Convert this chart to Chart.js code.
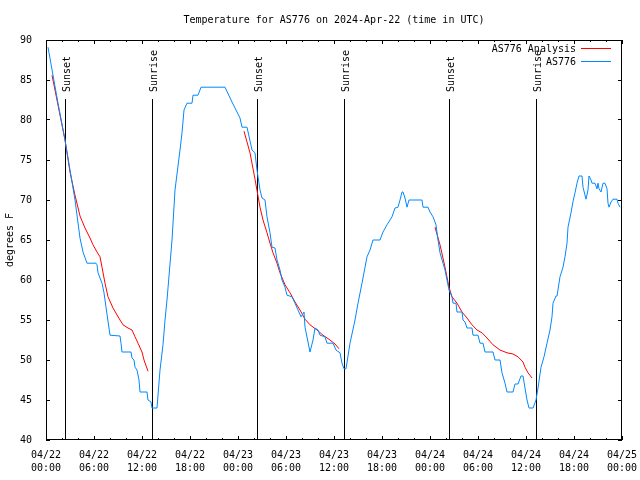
<!DOCTYPE html>
<html>
<head>
<meta charset="utf-8">
<script src="https://cdn.jsdelivr.net/npm/chart.js@4.4.1/dist/chart.umd.min.js"></script>
<style>
  html, body { margin: 0; padding: 0; background: #fff; }
</style>
</head>
<body>
<canvas id="tempChart" width="640" height="480"></canvas>
<script>
// hours since 2024-04-22 00:00 UTC
const obsHours = [0.25, 1.5, 2.375, 3.0, 3.625, 4.25, 4.625, 5.125, 6.25, 6.375, 6.5, 7.0, 7.25, 7.5, 8.0, 9.25, 9.375, 9.5,
  10.625, 10.75, 11.0, 11.125, 11.375, 11.625, 11.75, 12.625, 12.75, 13.125, 13.25, 13.875, 14.25, 14.625, 14.875, 15.125,
  15.75, 16.125, 16.75, 17.0, 17.25, 17.625, 18.25, 18.375, 19.0, 19.375, 22.375, 23.25, 24.25, 24.5, 25.125, 25.75, 26.125,
  26.375, 26.75, 27.0, 27.375, 27.625, 28.0, 28.25, 28.625, 28.875, 29.25, 29.5, 29.875, 30.125, 30.75, 31.125, 31.5, 31.875,
  32.25, 32.375, 33.0, 33.375, 33.625, 34.0, 34.25, 34.875, 35.125, 35.875, 36.25, 36.75, 37.0, 37.25, 37.5, 38.0, 38.625,
  39.0, 39.5, 39.875, 40.125, 40.5, 40.875, 41.75, 42.125, 42.625, 43.25, 43.625, 44.0, 44.25, 44.5, 44.625, 44.875, 45.125,
  45.375, 47.0, 47.125, 47.75, 48.0, 48.375, 48.75, 49.0, 49.25, 49.625, 49.875, 50.125, 50.375, 50.75, 50.875, 51.25,
  51.375, 52.0, 52.125, 52.375, 52.625, 53.25, 53.375, 54.0, 54.25, 54.625, 54.875, 55.875, 56.125, 56.75, 57.0, 57.375,
  57.625, 58.375, 58.625, 59.0, 59.375, 59.625, 59.875, 60.125, 60.375, 60.875, 61.25, 61.5, 61.875, 62.25, 62.625, 63.0,
  63.25, 63.375, 63.75, 63.875, 64.25, 64.625, 64.875, 65.125, 65.25, 65.625, 65.875, 66.125, 66.375, 66.625, 67.0, 67.125,
  67.5, 67.75, 67.875, 68.125, 68.25, 68.625, 68.875, 69.0, 69.125, 69.375, 69.625, 69.875, 70.125, 70.25, 70.375, 70.625,
  70.875, 71.375, 71.5, 71.75];
const obsTemps = [89.1, 82.1, 77.5, 73.75, 70, 65.25, 63.5, 62.1, 62.1, 61.9, 60.9, 59.6, 58.4, 56.6, 53.1, 53, 52.1, 51,
  51, 50.25, 50, 49.1, 48.75, 47.5, 46, 46, 45, 44.75, 44, 44, 48.75, 51.9, 55, 57.5,
  65, 71.25, 76.25, 78.4, 81.25, 82.1, 82.1, 83.1, 83.1, 84.1, 84.1, 82.25, 80.25, 79.1, 79.1, 76.25, 75.9,
  73.75, 71.25, 70.25, 70, 67.9, 65.9, 64.1, 64, 62.5, 61.25, 60, 59.1, 58.1, 57.9, 57.1, 56.25, 55.4,
  56, 54.1, 51, 52.5, 54, 53.75, 53.1, 52.9, 52.1, 52.1, 51.25, 50.9, 49.6, 48.9, 48.9, 52.1, 55,
  57.1, 59.6, 61.6, 62.9, 63.75, 65, 65, 66, 66.9, 67.9, 69, 69.1, 70, 71, 71, 70.25, 69.1,
  70, 70, 69.1, 69.1, 68.5, 67.9, 66.9, 65, 63.4, 62.1, 61.25, 60, 58.75, 57.9, 57.1, 57.1,
  56, 56, 55, 54.75, 54, 54, 53.1, 53.1, 52.1, 52.1, 51, 51, 50, 50, 48.4, 47.1,
  46, 46, 47, 47, 48, 48, 46.5, 45, 44, 44, 45, 46.5, 49.1, 50.4, 52.1, 53.75,
  55.4, 57.1, 58, 58, 60.4, 61.6, 62.9, 64.6, 66.6, 68.4, 69.8, 70.9, 72.1, 73, 73, 71.6,
  70.1, 71.25, 73, 72.5, 72.1, 72.1, 71.4, 72.1, 71.4, 71, 72.1, 72.1, 71.4, 69.6, 69.1, 69.75,
  70.1, 70.1, 69.6, 69.1];

// analysis runs, null marks the gaps between evenings
const anaHours = [0.75, 2.375, 3.0, 3.625, 4.25, 4.875, 5.5, 5.875, 6.375, 6.75, 7.0, 7.375, 7.75, 8.375, 9.25, 9.625,
  10.25, 10.75, 11.125, 11.5, 12.0, 12.25, 12.75, 13.0,
  24.75, 25.5, 26.125, 26.75, 27.125, 27.625, 28.0, 28.375, 28.875, 29.25, 29.875, 30.5, 31.125, 31.75, 32.375, 33.0,
  33.875, 34.625, 35.5, 36.125, 36.625, 37.0,
  48.625, 49.25, 49.875, 50.375, 50.75, 51.375, 52.0, 52.625, 53.25, 53.875, 54.5, 55.125, 55.875, 56.75, 57.625, 58.375,
  59.0, 59.625, 59.875, 60.25, 60.75];
const anaTemps = [85.6, 77.5, 73.5, 70.6, 68, 66.5, 65.25, 64.4, 63.5, 62.9, 61.6, 59.6, 57.9, 56.5, 55, 54.4,
  54, 53.75, 52.9, 52.1, 51, 50, 48.6, null,
  78.6, 75.9, 72.6, 69.1, 67.5, 65.9, 64.6, 63.4, 62.1, 60.9, 59.4, 58.4, 57.25, 56.25, 55.1, 54.4,
  53.75, 53.1, 52.5, 52, 51.4, null,
  66.6, 64.4, 61.6, 59.1, 57.9, 57.1, 56, 55.25, 54.4, 53.75, 53.4, 52.75, 51.9, 51.25, 50.9, 50.75,
  50.4, 49.75, 49.1, 48.4, 47.75];

const sunHours = [2.44, 13.29, 26.375, 37.25, 50.375, 61.25];
const sunLabels = ['Sunset', 'Sunrise', 'Sunset', 'Sunrise', 'Sunset', 'Sunrise'];

const xTickLabels = [['04/22', '00:00'], ['04/22', '06:00'], ['04/22', '12:00'], ['04/22', '18:00'],
  ['04/23', '00:00'], ['04/23', '06:00'], ['04/23', '12:00'], ['04/23', '18:00'],
  ['04/24', '00:00'], ['04/24', '06:00'], ['04/24', '12:00'], ['04/24', '18:00'], ['04/25', '00:00']];
const yTicks = [40, 45, 50, 55, 60, 65, 70, 75, 80, 85, 90];

const seriesNames = ['AS776 Analysis', 'AS776'];
const seriesColors = ['#ff0000', '#0088ff'];
const titleText = 'Temperature for AS776 on 2024-Apr-22 (time in UTC)';

const FONT = "'DejaVu Sans Mono', monospace";

function toPoints(xs, ys) {
  return xs.map((x, i) => ({ x: x, y: ys[i] }));
}

// gnuplot style frame, inward ticks, sun markers, title and key
const gnuplotDecor = {
  id: 'gnuplotDecor',
  beforeDatasetsDraw(chart) {
    const ctx = chart.ctx;
    const xs = chart.scales.x;
    const area = chart.chartArea;
    ctx.save();
    ctx.strokeStyle = '#000';
    ctx.lineWidth = 1;
    ctx.fillStyle = '#000';
    ctx.font = '10px ' + FONT;
    sunHours.forEach((h, i) => {
      const px = Math.floor(xs.getPixelForValue(h)) + 0.5;
      ctx.beginPath();
      ctx.moveTo(px, 99);
      ctx.lineTo(px, area.bottom);
      ctx.stroke();
      ctx.save();
      ctx.translate(px + 2, 92);
      ctx.rotate(-Math.PI / 2);
      ctx.textAlign = 'left';
      ctx.textBaseline = 'middle';
      ctx.fillText(sunLabels[i], 0, 0);
      ctx.restore();
    });
    ctx.restore();
  },
  afterDraw(chart) {
    const ctx = chart.ctx;
    const xs = chart.scales.x;
    const ys = chart.scales.y;
    const a = chart.chartArea;
    ctx.save();
    ctx.strokeStyle = '#000';
    ctx.lineWidth = 1;
    ctx.strokeRect(a.left + 0.5, a.top + 0.5, a.right - a.left - 1, a.bottom - a.top - 1);

    ctx.beginPath();
    for (let h = 0; h <= 72; h += 2) {
      const px = Math.floor(xs.getPixelForValue(h)) + 0.5;
      const len = h % 6 === 0 ? 4 : 2;
      ctx.moveTo(px, a.bottom);
      ctx.lineTo(px, a.bottom - len);
      ctx.moveTo(px, a.top);
      ctx.lineTo(px, a.top + len);
    }
    yTicks.forEach(v => {
      const py = Math.floor(ys.getPixelForValue(v)) + 0.5;
      ctx.moveTo(a.left, py);
      ctx.lineTo(a.left + 4, py);
      ctx.moveTo(a.right, py);
      ctx.lineTo(a.right - 4, py);
    });
    ctx.stroke();

    ctx.fillStyle = '#000';
    ctx.font = '10px ' + FONT;
    ctx.textAlign = 'center';
    ctx.textBaseline = 'middle';
    ctx.fillText(titleText, (a.left + a.right) / 2, 20);

    // key
    ctx.textAlign = 'right';
    seriesNames.forEach((name, i) => {
      const ky = 49 + i * 13;
      ctx.fillStyle = '#000';
      ctx.fillText(name, 576, ky);
      ctx.strokeStyle = seriesColors[i];
      ctx.beginPath();
      ctx.moveTo(581, ky - 0.5);
      ctx.lineTo(611, ky - 0.5);
      ctx.stroke();
    });
    ctx.restore();
  }
};

const ctx = document.getElementById('tempChart').getContext('2d');
new Chart(ctx, {
  type: 'line',
  data: {
    datasets: [
      {
        label: seriesNames[0],
        data: toPoints(anaHours, anaTemps),
        borderColor: seriesColors[0],
        borderWidth: 1,
        pointRadius: 0,
        spanGaps: false,
        order: 2,
      },
      {
        label: seriesNames[1],
        data: toPoints(obsHours, obsTemps),
        borderColor: seriesColors[1],
        borderWidth: 1,
        pointRadius: 0,
        order: 1,
      },
    ],
  },
  options: {
    responsive: false,
    animation: false,
    devicePixelRatio: 1,
    layout: { padding: { top: 40, right: 18, left: 0, bottom: 0 } },
    plugins: {
      legend: { display: false },
      tooltip: { enabled: false },
      title: { display: false },
    },
    scales: {
      x: {
        type: 'linear',
        min: 0,
        max: 72,
        grid: { display: false },
        border: { display: false },
        afterFit: (scale) => {
          scale.height = 40;
          scale.paddingLeft = 0;
          scale.paddingRight = 0;
        },
        afterBuildTicks: (scale) => {
          scale.ticks = xTickLabels.map((_, i) => ({ value: i * 6 }));
        },
        ticks: {
          autoSkip: false,
          maxRotation: 0,
          padding: 1,
          color: '#000',
          font: { family: FONT, size: 10, lineHeight: 1.3 },
          callback: (v, i) => xTickLabels[i],
        },
      },
      y: {
        min: 40,
        max: 90,
        grid: { display: false },
        border: { display: false },
        afterFit: (scale) => {
          scale.width = 46;
          scale.paddingTop = 0;
          scale.paddingBottom = 0;
        },
        afterBuildTicks: (scale) => {
          scale.ticks = yTicks.map(v => ({ value: v }));
        },
        ticks: {
          padding: 6,
          color: '#000',
          font: { family: FONT, size: 10 },
          callback: (v) => String(v),
        },
        title: {
          display: true,
          text: 'degrees F',
          color: '#000',
          font: { family: FONT, size: 10 },
          padding: { top: 4, bottom: 0 },
        },
      },
    },
  },
  plugins: [gnuplotDecor],
});
</script>
</body>
</html>
